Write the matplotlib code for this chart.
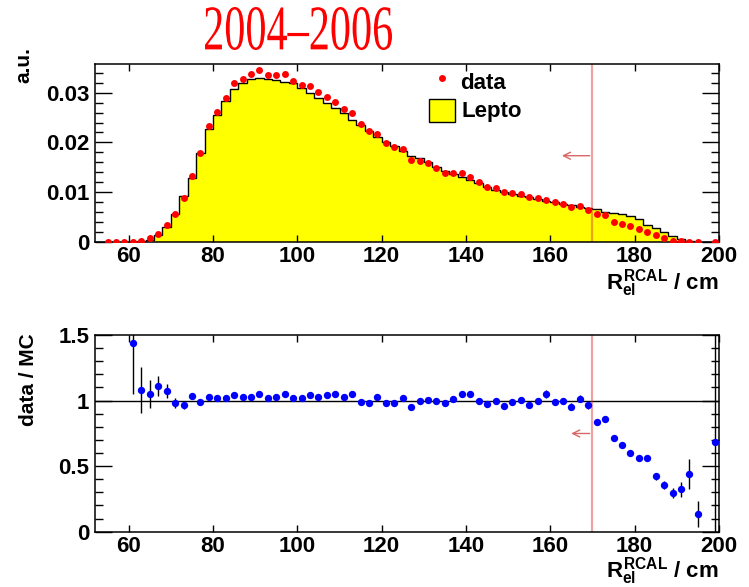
import numpy as np
import matplotlib
matplotlib.use('Agg')
import matplotlib.pyplot as plt
from matplotlib.patches import Rectangle, PathPatch
from matplotlib.textpath import TextPath
from matplotlib.font_manager import FontProperties
from matplotlib.transforms import Affine2D, IdentityTransform
from matplotlib.ticker import MultipleLocator

plt.rcParams['font.family'] = ['Liberation Sans', 'DejaVu Sans']
plt.rcParams['font.weight'] = 'bold'
plt.rcParams['axes.labelweight'] = 'bold'
plt.rcParams['mathtext.fontset'] = 'custom'
plt.rcParams['mathtext.rm'] = 'Liberation Sans:bold'
plt.rcParams['mathtext.it'] = 'Liberation Sans:bold'
plt.rcParams['mathtext.bf'] = 'Liberation Sans:bold'

## histogram binning: 2 cm bins from 52 to 200 cm
edges = np.arange(52, 201, 2)
cut = 170

## Lepto MC, normalised (one value per bin, centres 53..199)
mc = [0.0, 0.0, 0.0, 0.0, 0.0001, 0.0002, 0.0004, 0.0015, 0.0031, 0.0057,
      0.0093, 0.0129, 0.0179, 0.0226, 0.0255, 0.0284, 0.0307, 0.0319, 0.0327, 0.0330,
      0.0327, 0.0325, 0.0321, 0.0319, 0.0309, 0.0300, 0.0290, 0.0280, 0.0269, 0.0260,
      0.0245, 0.0235, 0.0222, 0.0210, 0.0201, 0.0192, 0.0183, 0.0173, 0.0168, 0.0161,
      0.0151, 0.0143, 0.0137, 0.0131, 0.0124, 0.0118, 0.0110, 0.0104, 0.0101, 0.0097,
      0.0092, 0.0090, 0.0086, 0.0082, 0.0080, 0.0076, 0.0074, 0.0071, 0.0068, 0.0066,
      0.0060, 0.0059, 0.0057, 0.0053, 0.0046, 0.0035, 0.0029, 0.0021, 0.0013, 0.0006,
      0.0003, 0.0001, 0.0, 0.0]

## data points, centres 55..199 (197 empty)
data_x = np.arange(55, 200, 2)
data = [0.00002, 0.00003, 0.00005, 0.0001, 0.0003, 0.0008, 0.0017, 0.0034, 0.0056, 0.0089,
        0.0133, 0.0178, 0.0232, 0.0262, 0.0290, 0.0319, 0.0327, 0.0337, 0.0346, 0.0335,
        0.0335, 0.0337, 0.0324, 0.0316, 0.0313, 0.0301, 0.0291, 0.0281, 0.0268, 0.0259,
        0.0238, 0.0222, 0.0217, 0.0199, 0.0191, 0.0187, 0.0165, 0.0163, 0.0158, 0.0149,
        0.0139, 0.0139, 0.0139, 0.0131, 0.0120, 0.0111, 0.0108, 0.0100, 0.0099, 0.0096,
        0.0090, 0.0088, 0.0085, 0.0080, 0.0077, 0.0071, 0.0073, 0.0065, 0.0056, 0.0054,
        0.0041, 0.0037, 0.0032, 0.0027, 0.0021, 0.0015, 0.0008, 0.0003, 0.0002, 0.0001,
        0.0, np.nan, 0.0]

## data / MC ratio, centres 61..199
ratio_x = np.arange(61, 200, 2)
ratio = [1.439, 1.084, 1.053, 1.112, 1.071, 0.980, 0.964, 1.036, 0.990, 1.030,
         1.020, 1.020, 1.041, 1.030, 1.030, 1.051, 1.020, 1.028, 1.053, 1.018,
         1.018, 1.043, 1.030, 1.043, 1.048, 1.028, 1.051, 0.992, 0.985, 1.028,
         0.982, 0.985, 1.023, 0.949, 0.995, 1.008, 1.000, 0.982, 1.015, 1.048,
         1.053, 1.000, 0.972, 0.995, 0.959, 0.990, 1.003, 0.970, 0.997, 1.051,
         0.990, 0.995, 0.954, 1.015, 0.964, 0.833, 0.860, 0.716, 0.663, 0.602,
         0.559, 0.559, 0.422, 0.353, 0.297, 0.325, 0.439, 0.135, np.nan, 0.685]
ratio_err = [0.39, 0.175, 0.107, 0.076, 0.055, 0.04, 0.03, 0.025, 0.02, 0.018,
             0.018, 0.018, 0.018, 0.018, 0.018, 0.018, 0.018, 0.018, 0.018, 0.018,
             0.018, 0.018, 0.018, 0.018, 0.018, 0.018, 0.018, 0.018, 0.018, 0.018,
             0.018, 0.018, 0.018, 0.018, 0.018, 0.018, 0.018, 0.018, 0.02, 0.02,
             0.02, 0.02, 0.02, 0.02, 0.02, 0.02, 0.02, 0.02, 0.02, 0.028,
             0.02, 0.02, 0.025, 0.025, 0.025, 0.02, 0.02, 0.02, 0.02, 0.02,
             0.02, 0.02, 0.025, 0.03, 0.04, 0.057, 0.112, 0.098, np.nan, 1.0]

fig = plt.figure(figsize=(7.49, 5.87), dpi=100)
ax1 = fig.add_axes([0.1268, 0.5877, 0.8331, 0.3032])
ax2 = fig.add_axes([0.1268, 0.0942, 0.8331, 0.3351])

cutcol = (0.85, 0.2, 0.2)
arrowcol = (0.85, 0.4, 0.4)

# top: distribution
ax1.stairs(mc, edges, fill=True, facecolor='#ffff00', edgecolor='black', linewidth=1.0, zorder=1)
ax1.axvline(cut, color=cutcol, alpha=0.45, lw=1.6, zorder=2)
ax1.annotate('', xy=(162.1, 0.01733), xytext=(cut, 0.01733),
             arrowprops=dict(arrowstyle='->,head_length=0.5,head_width=0.25', color=arrowcol, lw=1.0))
ax1.plot(data_x, data, 'o', color='#ff0000', ms=5, mec='none', zorder=3)
ax1.set_xlim(52, 200)
ax1.set_ylim(0, 0.03574)
ax1.yaxis.set_major_locator(MultipleLocator(0.01))
ax1.yaxis.set_minor_locator(MultipleLocator(0.002))
ax1.yaxis.set_major_formatter(plt.FuncFormatter(lambda v, p: '0' if v == 0 else '%g' % v))

# legend drawn by hand
ax1.plot([0.5556], [0.923], 'o', color='#ff0000', ms=5, mec='none', transform=ax1.transAxes)
ax1.add_patch(Rectangle((0.5353, 0.674), 0.0417, 0.129, transform=ax1.transAxes,
                        facecolor='#ffff00', edgecolor='black', lw=1.0))
ax1.text(0.585, 0.8596, 'data', transform=ax1.transAxes, fontsize=16, va='baseline')
ax1.text(0.5876, 0.7006, 'Lepto', transform=ax1.transAxes, fontsize=16, va='baseline')

# bottom: ratio
ax2.axhline(1.0, color='black', lw=1.0, zorder=1)
ax2.axvline(cut, color=cutcol, alpha=0.45, lw=1.6, zorder=2)
ax2.annotate('', xy=(164.3, 0.749), xytext=(cut, 0.749),
             arrowprops=dict(arrowstyle='->,head_length=0.5,head_width=0.25', color=arrowcol, lw=1.0))
ax2.errorbar(ratio_x, ratio, yerr=ratio_err, fmt='o', color='#0000ff', ms=5.3, mec='none',
             ecolor='black', elinewidth=1.0, capsize=0, zorder=3)
ax2.set_xlim(52, 200)
ax2.set_ylim(0, 1.5)
ax2.yaxis.set_major_locator(MultipleLocator(0.5))
ax2.yaxis.set_minor_locator(MultipleLocator(0.1))
ax2.yaxis.set_major_formatter(plt.FuncFormatter(lambda v, p: '%g' % v))

for ax in (ax1, ax2):
    ax.xaxis.set_major_locator(MultipleLocator(20))
    ax.tick_params(which='both', direction='in', top=True, right=True, labelsize=16, width=1.0)
    ax.tick_params(axis='x', which='major', length=4.7, pad=3)
    ax.tick_params(axis='y', which='major', length=12, pad=4)
    ax.tick_params(axis='y', which='minor', length=6)
    for s in ax.spines.values():
        s.set_linewidth(1.1)
    ax.set_xlabel(r'$R_{el}^{RCAL}$ / cm', fontsize=16, loc='right')

ax1.xaxis.set_label_coords(1.0, -0.14)
ax2.xaxis.set_label_coords(1.0, -0.121)
ax1.set_ylabel('a.u.', fontsize=15, loc='top')
ax1.yaxis.set_label_coords(-0.099, 1.096)
ax2.set_ylabel('data / MC', fontsize=15, loc='top')
ax2.yaxis.set_label_coords(-0.092, 1.01)

# period title, narrow serif in red
tp = TextPath((0, 0), '2004\u20132006', size=64,
              prop=FontProperties(family='Liberation Serif', weight='normal'))
bb = tp.get_extents()
tr = Affine2D().translate(-bb.x0, -bb.y0).scale(187 / bb.width, 43 / bb.height).translate(205, 587 - 50)
fig.add_artist(PathPatch(tr.transform_path(tp), transform=IdentityTransform(),
                         facecolor='#ff0000', edgecolor='none'))

fig.savefig('out.png', dpi=100)
